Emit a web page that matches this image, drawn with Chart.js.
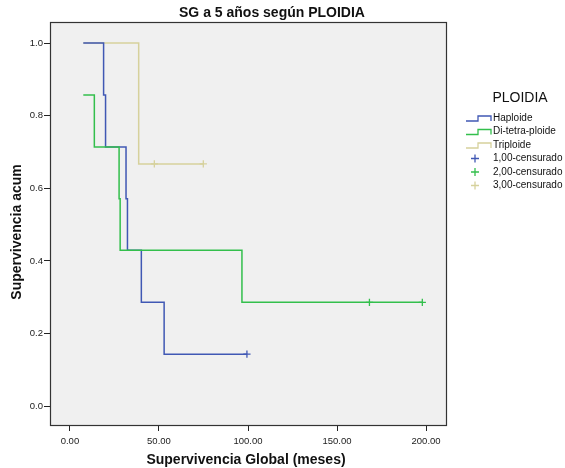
<!DOCTYPE html>
<html>
<head>
<meta charset="utf-8">
<script src="https://cdn.jsdelivr.net/npm/chart.js@4/dist/chart.umd.min.js"></script>
<style>
html,body{margin:0;padding:0;background:#fff;}
#wrap{width:565px;height:468px;position:relative;}
</style>
</head>
<body>
<div id="wrap"><canvas id="c" width="565" height="468"></canvas></div>
<script>
// ---- data ----
const chartTitle = "SG a 5 años según PLOIDIA";
const xTitle = "Supervivencia Global (meses)";
const yTitle = "Supervivencia acum";
const legendTitle = "PLOIDIA";
const groupNames = ["Haploide", "Di-tetra-ploide", "Triploide"];
const censorNames = ["1,00-censurado", "2,00-censurado", "3,00-censurado"];

const hapTime = [7.5, 18.9, 20.0, 31.5, 32.3, 40.1, 52.9, 99.4];
const hapSurv = [1.0, 0.857, 0.714, 0.571, 0.429, 0.286, 0.143, 0.143];
const hapCensTime = [99.4];
const hapCensSurv = [0.143];

const diTime = [7.5, 13.7, 27.6, 28.2, 96.6, 168.2, 197.9];
const diSurv = [0.857, 0.714, 0.571, 0.429, 0.286, 0.286, 0.286];
const diCensTime = [168.2, 197.9];
const diCensSurv = [0.286, 0.286];

const triTime = [7.5, 38.6, 47.4, 74.9];
const triSurv = [1.0, 0.667, 0.667, 0.667];
const triCensTime = [47.4, 74.9];
const triCensSurv = [0.667, 0.667];

const xTicks = [0, 50, 100, 150, 200];
const yTicks = [0.0, 0.2, 0.4, 0.6, 0.8, 1.0];

// ---- styles ----
const colors = ["#4058B4", "#33BF4C", "#D6D19C"];
const pts = (t, s) => t.map((v, i) => ({x: v, y: s[i]}));

const lineDS = (label, t, s, col, order) => ({
  label, data: pts(t, s), showLine: true, stepped: true,
  borderColor: col, borderWidth: 1.5, pointRadius: 0, fill: false, order
});
const censDS = (label, t, s, col, order) => ({
  label, data: pts(t, s), showLine: false,
  borderColor: col, backgroundColor: col, pointStyle: 'cross',
  pointRadius: 3.6, pointBorderWidth: 1.3, pointHoverRadius: 3.6, order
});

const FONT = "'Liberation Sans', Arial, sans-serif";

const decor = {
  id: 'decor',
  beforeDatasetsDraw(chart) {
    const {ctx, chartArea: a} = chart;
    ctx.save();
    ctx.fillStyle = '#F0F0F0';
    ctx.fillRect(a.left, a.top, a.right - a.left, a.bottom - a.top);
    ctx.restore();
  },
  afterDatasetsDraw(chart) {
    const {ctx, chartArea: a} = chart;
    ctx.save();
    ctx.strokeStyle = '#333';
    ctx.lineWidth = 1.2;
    ctx.strokeRect(a.left + 0.5, a.top + 0.5, a.right - a.left, a.bottom - a.top);
    // title
    ctx.fillStyle = '#111';
    ctx.textAlign = 'center';
    ctx.textBaseline = 'middle';
    ctx.font = "bold 14px " + FONT;
    ctx.fillText(chartTitle, 272, 13);
    // x title
    ctx.fillText(xTitle, 246, 460);
    // y title
    ctx.save();
    ctx.translate(17, 232);
    ctx.rotate(-Math.PI / 2);
    ctx.fillText(yTitle, 0, 0);
    ctx.restore();
    // legend
    ctx.font = "14px " + FONT;
    ctx.fillStyle = '#111';
    ctx.fillText(legendTitle, 520, 98);
    ctx.textAlign = 'left';
    ctx.font = "10px " + FONT;
    const y0 = 118, dy = 13.5;
    for (let i = 0; i < 3; i++) {
      const y = y0 + i * dy;
      ctx.strokeStyle = colors[i];
      ctx.lineWidth = 1.3;
      ctx.beginPath();
      ctx.moveTo(466, y + 3);
      ctx.lineTo(478, y + 3);
      ctx.lineTo(478, y - 2);
      ctx.lineTo(491, y - 2);
      ctx.lineTo(491, y + 3);
      ctx.stroke();
      ctx.fillStyle = '#111';
      ctx.fillText(groupNames[i], 493, y);
    }
    for (let i = 0; i < 3; i++) {
      const y = y0 + (i + 3) * dy;
      ctx.strokeStyle = colors[i];
      ctx.lineWidth = 1.3;
      ctx.beginPath();
      ctx.moveTo(475, y - 4); ctx.lineTo(475, y + 4);
      ctx.moveTo(471, y); ctx.lineTo(479, y);
      ctx.stroke();
      ctx.fillStyle = '#111';
      ctx.fillText(censorNames[i], 493, y);
    }
    ctx.restore();
  }
};

new Chart(document.getElementById('c'), {
  type: 'scatter',
  data: {
    datasets: [
      lineDS(groupNames[0], hapTime, hapSurv, colors[0], 2),
      lineDS(groupNames[1], diTime, diSurv, colors[1], 1),
      lineDS(groupNames[2], triTime, triSurv, colors[2], 3),
      censDS(censorNames[0], hapCensTime, hapCensSurv, colors[0], 0),
      censDS(censorNames[1], diCensTime, diCensSurv, colors[1], 0),
      censDS(censorNames[2], triCensTime, triCensSurv, colors[2], 0)
    ]
  },
  options: {
    responsive: false,
    animation: false,
    events: [],
    layout: {padding: {top: 22, right: 119, left: 0, bottom: 0}},
    plugins: {legend: {display: false}, tooltip: {enabled: false}, title: {display: false}},
    scales: {
      x: {
        type: 'linear', min: -11.2, max: 211.2,
        afterFit(s) { s.height = 43; },
        afterBuildTicks(s) { s.ticks = xTicks.map(v => ({value: v})); },
        grid: {drawOnChartArea: false, drawTicks: true, tickLength: 6, color: '#222', lineWidth: 1},
        border: {display: false},
        ticks: {padding: 5, color: '#222', font: {family: FONT, size: 9.5},
                callback: v => Number(v).toFixed(2), maxRotation: 0, autoSkip: false}
      },
      y: {
        type: 'linear', min: -0.052, max: 1.058,
        afterFit(s) { s.width = 50; },
        afterBuildTicks(s) { s.ticks = yTicks.map(v => ({value: v})); },
        grid: {drawOnChartArea: false, drawTicks: true, tickLength: 6, color: '#222', lineWidth: 1},
        border: {display: false},
        ticks: {padding: 1, color: '#222', font: {family: FONT, size: 9.5},
                callback: v => Number(v).toFixed(1), autoSkip: false}
      }
    }
  },
  plugins: [decor]
});
</script>
</body>
</html>
